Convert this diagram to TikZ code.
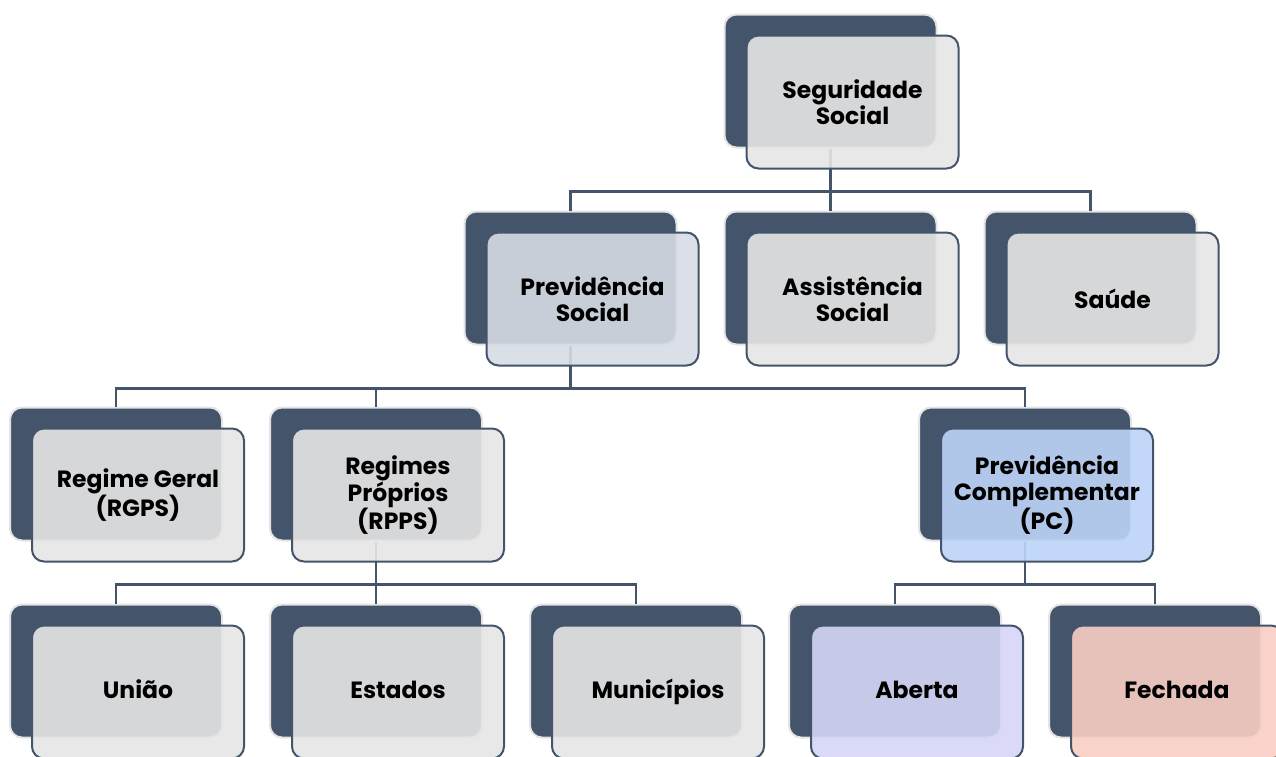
\documentclass[tikz,border=0pt]{standalone}
\usepackage{fontspec}
\setmainfont{Poppins}
\usetikzlibrary{calc}

\definecolor{slate}{HTML}{44546A}
\definecolor{edgegray}{HTML}{E4E4E4}
\definecolor{cardgray}{HTML}{E6E6E6}
\definecolor{cardprev}{HTML}{D6DCE5}
\definecolor{cardpc}{HTML}{BDD4F7}
\definecolor{cardaberta}{HTML}{D6D6F7}
\definecolor{cardfechada}{HTML}{F8CEC4}

\begin{document}
\begin{tikzpicture}[x=1pt, y=-1pt,
    back/.style={fill=slate, draw=edgegray, line width=2pt, rounded corners=12pt,
        minimum width=212pt, minimum height=133pt, inner sep=0pt},
    card/.style={fill=#1, fill opacity=0.9, text opacity=1, draw=slate, line width=2pt,
        rounded corners=12pt, minimum width=212pt, minimum height=133pt, inner sep=0pt,
        align=center, font=\fontsize{23.5}{26}\selectfont\bfseries},
    card/.default=cardgray,
    link/.style={draw=slate, line width=2.5pt}]

    \useasboundingbox (0,0) rectangle (1276,756);

    % Back plates (dark slate)
    \node[back] (seg)     at (830.5,81)   {};
    \node[back] (prev)    at (570.5,278)  {};
    \node[back] (assist)  at (830.5,278)  {};
    \node[back] (saude)   at (1090.5,278) {};
    \node[back] (rgps)    at (116,474)    {};
    \node[back] (rpps)    at (376,474)    {};
    \node[back] (pc)      at (1025,474)   {};
    \node[back] (uniao)   at (116,671)    {};
    \node[back] (estados) at (376,671)    {};
    \node[back] (munic)   at (636,671)    {};
    \node[back] (aberta)  at (895,671)    {};
    \node[back] (fechada) at (1155,671)   {};

    % Connectors (parent -> bar -> children)
    \draw[link] (seg.south) -- ++(0,43) coordinate (segbar);
    \draw[link] (segbar) -| (prev.north);
    \draw[link] (segbar) -| (assist.north);
    \draw[link] (segbar) -| (saude.north);

    \draw[link] (prev.south) -- ++(0,43) coordinate (prevbar);
    \draw[link] (prevbar) -| (rgps.north);
    \draw[link] (prevbar) -| (rpps.north);
    \draw[link] (prevbar) -| (pc.north);

    \draw[link] (rpps.south) -- ++(0,43) coordinate (rppsbar);
    \draw[link] (rppsbar) -| (uniao.north);
    \draw[link] (rppsbar) -| (estados.north);
    \draw[link] (rppsbar) -| (munic.north);

    \draw[link] (pc.south) -- ++(0,43) coordinate (pcbar);
    \draw[link] (pcbar) -| (aberta.north);
    \draw[link] (pcbar) -| (fechada.north);

    % Front cards with labels
    \node[card]              (segf)     at ($(seg)+(22,21)$)     {Seguridade\\Social};
    \node[card=cardprev]     (prevf)    at ($(prev)+(22,21)$)    {Previdência\\Social};
    \node[card]              (assistf)  at ($(assist)+(22,21)$)  {Assistência\\Social};
    \node[card]              (saudef)   at ($(saude)+(22,21)$)   {Saúde};
    \node[card]              (rgpsf)    at ($(rgps)+(22,21)$)    {Regime Geral\\(RGPS)};
    \node[card]              (rppsf)    at ($(rpps)+(22,21)$)    {Regimes\\Próprios\\(RPPS)};
    \node[card=cardpc]       (pcf)      at ($(pc)+(22,21)$)      {Previdência\\Complementar\\(PC)};
    \node[card]              (uniaof)   at ($(uniao)+(22,21)$)   {União\vphantom{pí}};
    \node[card]              (estadosf) at ($(estados)+(22,21)$) {Estados\vphantom{pí}};
    \node[card]              (municf)   at ($(munic)+(22,21)$)   {Municípios};
    \node[card=cardaberta]   (abertaf)  at ($(aberta)+(22,21)$)  {Aberta\vphantom{pí}};
    \node[card=cardfechada]  (fechadaf) at ($(fechada)+(22,21)$) {Fechada\vphantom{pí}};

\end{tikzpicture}
\end{document}
